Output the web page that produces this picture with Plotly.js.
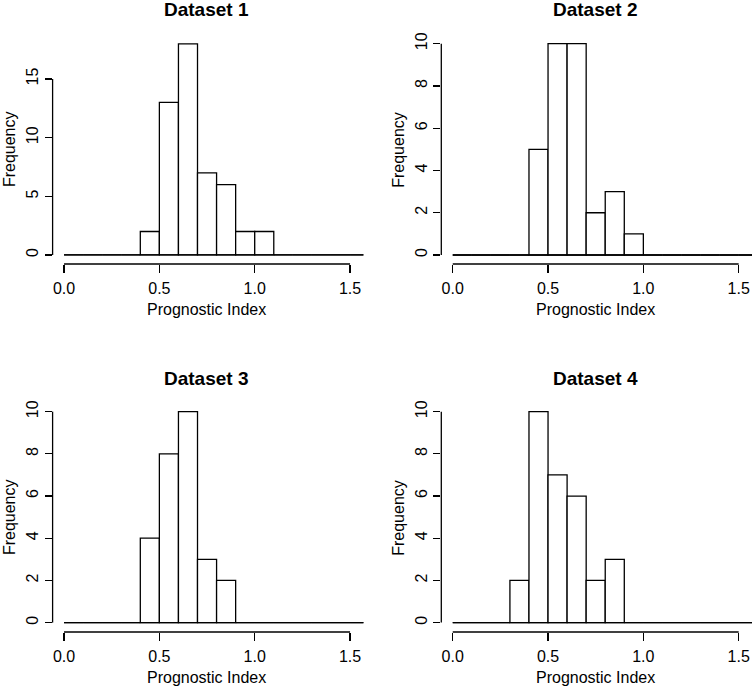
<!DOCTYPE html>
<html>
<head>
<meta charset="utf-8">
<script src="https://cdn.plot.ly/plotly-3.0.1.min.js"></script>
<style>body{margin:0;background:#fff}</style>
</head>
<body>
<div id="chart" style="width:752px;height:687px"></div>
<script>
// ---- data ----
const binEdges = [0.0,0.1,0.2,0.3,0.4,0.5,0.6,0.7,0.8,0.9,1.0,1.1,1.2,1.3,1.4,1.5,1.6];
const counts1 = [0,0,0,0,2,13,18,7,6,2,2,0,0,0,0,0];
const counts2 = [0,0,0,0,5,10,10,2,3,1,0,0,0,0,0,0];
const counts3 = [0,0,0,0,4,8,10,3,2,0,0,0,0,0,0,0];
const counts4 = [0,0,0,2,10,7,6,2,3,0,0,0,0,0,0,0];
const titles = ['Dataset 1','Dataset 2','Dataset 3','Dataset 4'];
const xTickVals = [0,0.5,1.0,1.5];
const xTickText = ['0.0','0.5','1.0','1.5'];
const yTicks1 = [0,5,10,15];
const yTicks2 = [0,2,4,6,8,10];
const yTicks3 = [0,2,4,6,8,10];
const yTicks4 = [0,2,4,6,8,10];
const xLabel = 'Prognostic Index';
const yLabel = 'Frequency';

// ---- layout helpers ----
const W = 752, H = 687;
const FONT = 'Liberation Sans, Arial, sans-serif';
const allCounts = [counts1, counts2, counts3, counts4];
const allYTicks = [yTicks1, yTicks2, yTicks3, yTicks4];
const xDomains = [[52.6/W, 363.4/W],[441.3/W, 1.0],[52.6/W, 363.4/W],[441.3/W, 1.0]];
const yDomains = [[(H-264)/H,(H-35)/H],[(H-264)/H,(H-35)/H],[(H-632)/H,(H-403)/H],[(H-632)/H,(H-403)/H]];
const yRanges = [[-0.77,18.75],[-0.426,10.41],[-0.446,10.41],[-0.446,10.41]];
const xRange = [-0.06, 1.57];
const titleCenters = [206, 595, 206, 595];

const leftEdges = binEdges.slice(0, -1);
const widths = leftEdges.map((e, i) => binEdges[i+1] - e);

const traces = [];
const layout = {
  width: W, height: H,
  margin: {l:0, r:0, t:0, b:0},
  paper_bgcolor: '#fff', plot_bgcolor: '#fff',
  showlegend: false,
  font: {family: FONT, color: '#000', size: 16},
  shapes: [], annotations: []
};

for (let k = 0; k < 4; k++) {
  const sx = k === 0 ? '' : String(k+1);
  const xa = 'x' + sx, ya = 'y' + sx;
  traces.push({
    type: 'bar', x: leftEdges, y: allCounts[k], width: widths, offset: 0,
    xaxis: xa, yaxis: ya,
    marker: {color: '#fff', line: {color: '#000', width: 1.3}},
    hoverinfo: 'x+y'
  });
  traces.push({
    type: 'scatter', mode: 'lines',
    x: [binEdges[0], binEdges[binEdges.length-1]], y: [0, 0],
    xaxis: xa, yaxis: ya,
    line: {color: '#000', width: 1.3}, hoverinfo: 'skip'
  });
  layout['xaxis' + sx] = {
    domain: xDomains[k], range: xRange, anchor: ya,
    showgrid: false, zeroline: false, showline: false,
    ticks: 'outside', ticklen: 8, tickwidth: 1.3, tickcolor: '#000',
    tickvals: xTickVals, ticktext: xTickText, ticklabelstandoff: 2,
    tickfont: {family: FONT, size: 16, color: '#000'}, fixedrange: true
  };
  const yt = allYTicks[k];
  layout['yaxis' + sx] = {
    domain: yDomains[k], range: yRanges[k], anchor: xa,
    showgrid: false, zeroline: false, showline: false,
    ticks: 'outside', ticklen: 7, tickwidth: 1.3, tickcolor: '#000',
    tickvals: yt, ticktext: yt.map(String), tickangle: -90,
    tickfont: {family: FONT, size: 16, color: '#000'}, fixedrange: true
  };
  // R-style axis lines spanning the tick range
  layout.shapes.push({type:'line', xref: xa, yref: ya + ' domain',
    x0: xTickVals[0], x1: xTickVals[xTickVals.length-1], y0: 0, y1: 0,
    line: {color:'#000', width:1.3}});
  layout.shapes.push({type:'line', xref: xa + ' domain', yref: ya,
    x0: 0, x1: 0, y0: yt[0], y1: yt[yt.length-1],
    line: {color:'#000', width:1.3}});
  const top = (1 - yDomains[k][1]) * H;
  const bottom = (1 - yDomains[k][0]) * H;
  const left = xDomains[k][0] * W;
  layout.annotations.push({
    text: '<b>' + titles[k] + '</b>', xref: 'paper', yref: 'paper',
    x: titleCenters[k] / W, y: 1 - (top - 25) / H, xanchor: 'center', yanchor: 'middle',
    showarrow: false, font: {family: FONT, size: 19, color: '#000'}
  });
  layout.annotations.push({
    text: xLabel, xref: 'paper', yref: 'paper',
    x: titleCenters[k] / W, y: 1 - (bottom + 45) / H, xanchor: 'center', yanchor: 'middle',
    showarrow: false, font: {family: FONT, size: 16, color: '#000'}
  });
  layout.annotations.push({
    text: yLabel, xref: 'paper', yref: 'paper', textangle: -90,
    x: (left - 43) / W, y: 1 - ((top + bottom) / 2) / H, xanchor: 'center', yanchor: 'middle',
    showarrow: false, font: {family: FONT, size: 16, color: '#000'}
  });
}

Plotly.newPlot('chart', traces, layout, {displayModeBar: false, staticPlot: true});
</script>
</body>
</html>
